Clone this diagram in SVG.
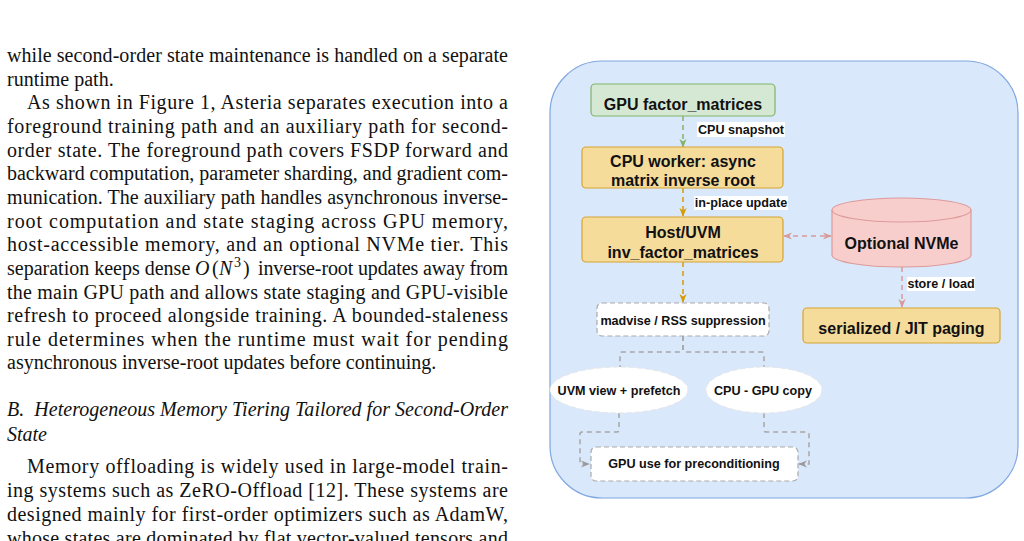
<svg xmlns="http://www.w3.org/2000/svg" width="1024" height="541" viewBox="0 0 1024 541">
<style>
.body{font-family:"Liberation Serif","Times New Roman",serif;font-size:20px;fill:#111}
.it{font-style:italic}
.nt{font-family:"Liberation Sans",Arial,sans-serif;font-weight:bold;font-size:16px;fill:#111;text-anchor:middle}
.sm{font-family:"Liberation Sans",Arial,sans-serif;font-weight:bold;font-size:12.6px;fill:#111;text-anchor:middle}
.yel{fill:#f5dc9b;stroke:#d6a433;stroke-width:1.2}
.wbox{fill:#fff;stroke:#aaaaaa;stroke-width:1.2;stroke-dasharray:5 3}
.wel{fill:#fff;stroke:#e6e6e6;stroke-width:1;stroke-dasharray:5 3}
.lbl{fill:#fff}
.e{fill:none;stroke-width:1.5;stroke-dasharray:5 4}
</style>
<defs>
<marker id="mg" viewBox="0 0 10 10" refX="9" refY="5" markerWidth="9" markerHeight="9" orient="auto-start-reverse" markerUnits="userSpaceOnUse"><path d="M0,1 L10,5 L0,9 L3,5 z" fill="#82b366"/></marker>
<marker id="mo" viewBox="0 0 10 10" refX="9" refY="5" markerWidth="9" markerHeight="9" orient="auto-start-reverse" markerUnits="userSpaceOnUse"><path d="M0,1 L10,5 L0,9 L3,5 z" fill="#d79b00"/></marker>
<marker id="mp" viewBox="0 0 10 10" refX="9" refY="5" markerWidth="9" markerHeight="9" orient="auto-start-reverse" markerUnits="userSpaceOnUse"><path d="M0,1 L10,5 L0,9 L3,5 z" fill="#d79a9a"/></marker>
<marker id="mgr" viewBox="0 0 10 10" refX="9" refY="5" markerWidth="9" markerHeight="9" orient="auto-start-reverse" markerUnits="userSpaceOnUse"><path d="M0,1 L10,5 L0,9 L3,5 z" fill="#9a9a9a"/></marker>
</defs>
<rect width="1024" height="541" fill="#fff"/>

<g id="page-text" class="body">
<text x="7" y="62" textLength="501" lengthAdjust="spacing">while second-order state maintenance is handled on a separate</text>
<text x="7" y="85.65">runtime path.</text>
<text x="27" y="109.3" textLength="481" lengthAdjust="spacing">As shown in Figure 1, Asteria separates execution into a</text>
<text x="7" y="132.95" textLength="501" lengthAdjust="spacing">foreground training path and an auxiliary path for second-</text>
<text x="7" y="156.6" textLength="501" lengthAdjust="spacing">order state. The foreground path covers FSDP forward and</text>
<text x="7" y="180.25" textLength="501" lengthAdjust="spacing">backward computation, parameter sharding, and gradient com-</text>
<text x="7" y="203.9" textLength="501" lengthAdjust="spacing">munication. The auxiliary path handles asynchronous inverse-</text>
<text x="7" y="227.55" textLength="501" lengthAdjust="spacing">root computation and state staging across GPU memory,</text>
<text x="7" y="251.2" textLength="501" lengthAdjust="spacing">host-accessible memory, and an optional NVMe tier. This</text>
<text x="7" y="274.85">separation keeps dense</text>
<text y="274.85"><tspan class="it" x="195">O</tspan><tspan x="212">(</tspan><tspan class="it" x="219">N</tspan><tspan font-size="14" x="234" dy="-8">3</tspan><tspan x="243" dy="8">)</tspan></text>
<text x="258" y="274.85" textLength="250" lengthAdjust="spacing">inverse-root updates away from</text>
<text x="7" y="298.5" textLength="501" lengthAdjust="spacing">the main GPU path and allows state staging and GPU-visible</text>
<text x="7" y="322.15" textLength="501" lengthAdjust="spacing">refresh to proceed alongside training. A bounded-staleness</text>
<text x="7" y="345.8" textLength="501" lengthAdjust="spacing">rule determines when the runtime must wait for pending</text>
<text x="7" y="369.45">asynchronous inverse-root updates before continuing.</text>
<text x="7" y="416" class="it" textLength="501" lengthAdjust="spacing">B.&#160; Heterogeneous Memory Tiering Tailored for Second-Order</text>
<text x="7" y="441" class="it">State</text>
<text x="27" y="473" textLength="481" lengthAdjust="spacing">Memory offloading is widely used in large-model train-</text>
<text x="7" y="497" textLength="501" lengthAdjust="spacing">ing systems such as ZeRO-Offload [12]. These systems are</text>
<text x="7" y="521" textLength="501" lengthAdjust="spacing">designed mainly for first-order optimizers such as AdamW,</text>
<text x="7" y="545" textLength="501" lengthAdjust="spacing">whose states are dominated by flat vector-valued tensors and</text>
</g>

<g id="container">
<rect x="550" y="61" width="468" height="437" rx="52" ry="52" fill="#dae8fc" stroke="#7ea6e0" stroke-width="1.2"/>
</g>

<g id="connectors">
<line class="e" x1="683" y1="116" x2="683" y2="147" stroke="#82b366" marker-end="url(#mg)"/>
<line class="e" x1="683" y1="188" x2="683" y2="216" stroke="#d79b00" marker-end="url(#mo)"/>
<line class="e" x1="683" y1="262" x2="683" y2="302" stroke="#d79b00" marker-end="url(#mo)"/>
<line class="e" x1="784" y1="236" x2="831" y2="236" stroke="#d79a9a" marker-start="url(#mp)" marker-end="url(#mp)"/>
<line class="e" x1="902" y1="267" x2="902" y2="307" stroke="#d79a9a" marker-end="url(#mp)"/>
<path class="e" d="M683,336 V350 Q683,352 681,352 H622 Q620,352 620,354 V367" stroke="#a6a6a6"/>
<path class="e" d="M683,336 V350 Q683,352 685,352 H762 Q764,352 764,354 V367" stroke="#a6a6a6"/>
<path class="e" d="M619,413 V430 Q619,432 617,432 H582 Q580,432 580,434 V464 H589" stroke="#a6a6a6" marker-end="url(#mgr)"/>
<path class="e" d="M764,413 V430 Q764,432 766,432 H807 Q809,432 809,434 V464 H799" stroke="#a6a6a6" marker-end="url(#mgr)"/>
<rect class="lbl" x="697" y="122" width="88" height="15"/>
<text class="sm" x="741" y="134">CPU snapshot</text>
<rect class="lbl" x="694" y="196" width="94" height="14"/>
<text class="sm" x="741" y="207">in-place update</text>
<rect class="lbl" x="907" y="277" width="68" height="14"/>
<text class="sm" x="941" y="288">store / load</text>
</g>

<g id="gpu-factor">
<rect x="591" y="84" width="184" height="32" rx="4" fill="#d5e8d4" stroke="#82b366" stroke-width="1.2"/>
<text class="nt" x="683" y="110">GPU factor_matrices</text>
</g>
<g id="cpu-worker">
<rect class="yel" x="582" y="147" width="201" height="41" rx="4"/>
<text class="nt" x="683" y="167">CPU worker: async</text>
<text class="nt" x="683" y="186">matrix inverse root</text>
</g>
<g id="host-uvm">
<rect class="yel" x="582" y="217" width="201" height="45" rx="4"/>
<text class="nt" x="683" y="238">Host/UVM</text>
<text class="nt" x="683" y="258">inv_factor_matrices</text>
</g>
<g id="nvme">
<path d="M832,210 A69.5,12 0 0 1 971,210 V255 A69.5,12 0 0 1 832,255 Z" fill="#f8cecc" stroke="#dd9a9a" stroke-width="1.2"/>
<path d="M832,210 A69.5,12 0 0 0 971,210" fill="none" stroke="#dd9a9a" stroke-width="1.2"/>
<text class="nt" x="901.5" y="249">Optional NVMe</text>
</g>
<g id="jit-paging">
<rect class="yel" x="803" y="308" width="197" height="35" rx="4"/>
<text class="nt" x="901.5" y="334">serialized / JIT paging</text>
</g>
<g id="madvise">
<rect class="wbox" x="597" y="303" width="172" height="33" rx="5"/>
<text class="sm" x="683" y="325">madvise / RSS suppression</text>
</g>
<g id="uvm-view">
<ellipse class="wel" cx="619" cy="390" rx="69" ry="23"/>
<text class="sm" x="619" y="395">UVM view + prefetch</text>
</g>
<g id="cpu-gpu-copy">
<ellipse class="wel" cx="764" cy="390" rx="58" ry="23"/>
<text class="sm" x="763" y="395">CPU - GPU copy</text>
</g>
<g id="gpu-use">
<rect class="wbox" x="591" y="447" width="207" height="34" rx="5"/>
<text class="sm" x="694" y="468">GPU use for preconditioning</text>
</g>
</svg>
